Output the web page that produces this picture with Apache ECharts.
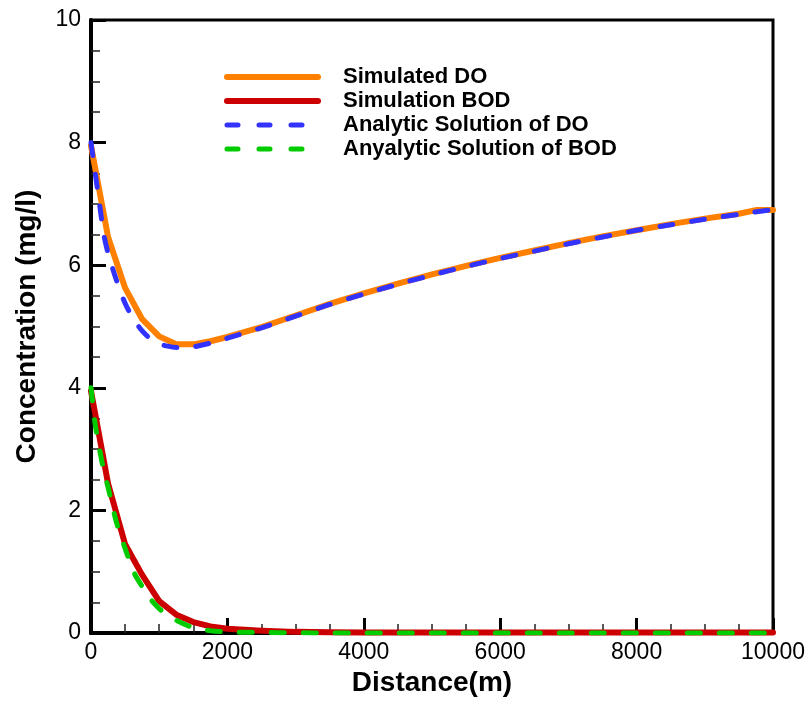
<!DOCTYPE html>
<html>
<head>
<meta charset="utf-8">
<script src="https://cdn.jsdelivr.net/npm/echarts@6/dist/echarts.min.js"></script>
<style>html,body{margin:0;padding:0;background:#fff;}#c{width:809px;height:702px;}</style>
</head>
<body>
<div id="c"></div>
<script>
// ---- data ----
const simDist = [0,250,500,750,1000,1250,1500,1750,2000,2500,3000,3500,4000,4500,5000,5500,6000,6500,7000,7500,8000,8500,9000,9500,9750,10000];
const simDO   = [7.95,6.46,5.63,5.12,4.84,4.71,4.71,4.76,4.83,4.99,5.18,5.37,5.54,5.70,5.85,5.99,6.12,6.24,6.36,6.47,6.57,6.67,6.76,6.84,6.90,6.90];
const simBOD  = [3.95,2.44,1.45,0.95,0.52,0.30,0.18,0.11,0.07,0.04,0.02,0.015,0.01,0.01,0.01,0.01,0.01,0.01,0.01,0.01,0.01,0.01,0.01,0.01,0.01,0.01];

const anaDist = [0,62,125,188,250,375,500,625,750,875,1000,1125,1250,1500,1750,2000,2500,3000,3500,4000,4500,5000,5500,6000,6500,7000,7500,8000,8500,9000,9500,10000];
const anaDO   = [8.0,7.5,7.0,6.5,6.2,5.75,5.38,5.12,4.93,4.80,4.72,4.68,4.66,4.67,4.73,4.81,4.98,5.17,5.36,5.53,5.69,5.84,5.98,6.11,6.23,6.35,6.46,6.57,6.66,6.75,6.83,6.91];
const anaBOD  = [4.0,3.4,3.0,2.65,2.38,1.8,1.38,1.0,0.76,0.55,0.40,0.29,0.21,0.09,0.04,0.02,0.01,0.005,0,0,0,0,0,0,0,0,0,0,0,0,0,0];

const seriesNames = ['Simulated DO','Simulation BOD','Analytic Solution of DO','Anyalytic Solution of BOD'];
const seriesColors = ['#FF8000','#CC0000','#3333FF','#00CC00'];
const xTicks = {min:0, max:10000, interval:2000};
const yTicks = {min:0, max:10, interval:2};

function pairs(xs, ys){ return xs.map((x,i)=>[x, ys[i]]); }

const chart = echarts.init(document.getElementById('c'));
const font = 'Liberation Sans, Arial, sans-serif';
const solid = {width:6,type:'solid',cap:'round'};
const dashed = {width:5,type:[13,19],cap:'round'};
const legendDashed = {width:5,type:[11,21],cap:'round'};
chart.setOption({
  animation:false,
  backgroundColor:'#fff',
  grid:{left:91,right:36,top:20,bottom:60,show:true,borderColor:'#000',borderWidth:3,backgroundColor:'transparent'},
  legend:{
    show:true, orient:'vertical', left:219, top:61,
    itemWidth:91, itemHeight:14, itemGap:2,
    itemStyle:{opacity:0},
    data:[
      {name:seriesNames[0], lineStyle:Object.assign({color:seriesColors[0]},solid)},
      {name:seriesNames[1], lineStyle:Object.assign({color:seriesColors[1]},solid)},
      {name:seriesNames[2], lineStyle:Object.assign({color:seriesColors[2]},legendDashed)},
      {name:seriesNames[3], lineStyle:Object.assign({color:seriesColors[3]},legendDashed)}
    ],
    textStyle:{fontFamily:font,fontWeight:'bold',fontSize:22,color:'#000',padding:[0,0,0,20]}
  },
  xAxis:{
    type:'value', min:xTicks.min, max:xTicks.max, interval:xTicks.interval,
    name:'Distance(m)', nameLocation:'middle', nameGap:25,
    nameTextStyle:{fontFamily:font,fontWeight:'bold',fontSize:28,color:'#000'},
    axisLine:{show:true,onZero:false,lineStyle:{color:'#000',width:4}},
    axisTick:{show:true,inside:true,length:15,lineStyle:{color:'#000',width:3}},
    minorTick:{show:true,splitNumber:4,length:9,lineStyle:{color:'#222',width:1.5}},
    axisLabel:{fontFamily:font,fontSize:23,color:'#000',margin:8,formatter:v=>String(v)},
    splitLine:{show:false}
  },
  yAxis:{
    type:'value', min:yTicks.min, max:yTicks.max, interval:yTicks.interval,
    name:'Concentration (mg/l)', nameLocation:'middle', nameGap:50,
    nameTextStyle:{fontFamily:font,fontWeight:'bold',fontSize:28,color:'#000'},
    axisLine:{show:true,onZero:false,lineStyle:{color:'#000',width:4}},
    axisTick:{show:true,inside:true,length:15,lineStyle:{color:'#000',width:3}},
    minorTick:{show:true,splitNumber:4,length:9,lineStyle:{color:'#222',width:1.5}},
    axisLabel:{fontFamily:font,fontSize:23,color:'#000',margin:10,formatter:v=>String(v)},
    splitLine:{show:false}
  },
  series:[
    {name:seriesNames[0],type:'line',data:pairs(simDist,simDO),showSymbol:false,symbol:'none',
     lineStyle:Object.assign({color:seriesColors[0],join:'round'},solid),itemStyle:{color:seriesColors[0]}},
    {name:seriesNames[1],type:'line',data:pairs(simDist,simBOD),showSymbol:false,symbol:'none',
     lineStyle:Object.assign({color:seriesColors[1],join:'round'},solid),itemStyle:{color:seriesColors[1]}},
    {name:seriesNames[2],type:'line',data:pairs(anaDist,anaDO),showSymbol:false,symbol:'none',smooth:0.3,
     lineStyle:Object.assign({color:seriesColors[2]},dashed),itemStyle:{color:seriesColors[2]}},
    {name:seriesNames[3],type:'line',data:pairs(anaDist,anaBOD),showSymbol:false,symbol:'none',smooth:0.3,
     lineStyle:Object.assign({color:seriesColors[3]},dashed),itemStyle:{color:seriesColors[3]}}
  ]
});
</script>
</body>
</html>
